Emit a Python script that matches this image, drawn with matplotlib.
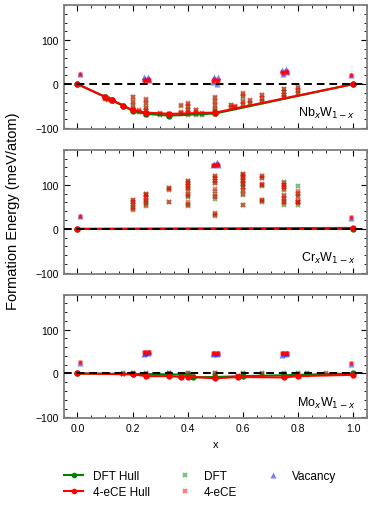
import numpy as np
from matplotlib import pyplot as plt

plt.rcParams['font.family'] = ['Liberation Sans', 'DejaVu Sans']
plt.rcParams['mathtext.fontset'] = 'dejavusans'

# ---- NbW ----
nb_hull_x = [0.0, 0.1, 0.125, 0.1667, 0.2, 0.25, 0.3333, 0.5, 1.0]
nb_dft_hull = [0, -29, -37, -50, -61, -68, -72, -67, 0]
nb_ce_hull = [0, -29, -36, -49, -60, -65, -68, -65, 0]
nb_col_x = [0.1, 0.111, 0.125, 0.1667, 0.2, 0.222, 0.25, 0.3, 0.3333, 0.375,
            0.4, 0.43, 0.45, 0.5, 0.556, 0.571, 0.6, 0.625, 0.667, 0.75, 0.8]
nb_dft_e = [[-30, -32], [-33, -35], [-37, -39], [-50], [-30, -40, -50, -58, -62],
            [-62, -64], [-36, -45, -55, -62, -68, -70], [-68, -70], [-72, -71],
            [-50, -66, -69], [-45, -52, -60, -66, -70], [-60, -66, -70],
            [-68, -70], [-32, -40, -50, -58, -64, -68],
            [-48, -55], [-52, -54], [-23, -30, -40, -48], [-38, -45],
            [-26, -33, -40], [-12, -18, -25, -30], [-8, -15, -22]]
nb_ce_e = [[-30, -33], [-34, -36], [-36, -39], [-49], [-29, -38, -48, -56, -60],
           [-60, -63], [-35, -44, -54, -60, -66, -68], [-66, -69], [-69, -68],
           [-48, -64, -67], [-44, -50, -58, -64, -68], [-58, -64, -68],
           [-66, -68], [-30, -38, -48, -56, -62, -66],
           [-47, -53], [-51, -53], [-21, -28, -38, -46], [-37, -44],
           [-24, -31, -39], [-11, -17, -24, -29], [-7, -14, -21]]
nb_vac_x = [0.01, 0.24, 0.245, 0.255, 0.26, 0.49, 0.495, 0.505, 0.51,
            0.74, 0.745, 0.755, 0.76, 0.99]
nb_vac_e = [23, 17, 12, 15, 10, 5, 15, 0, 17, 32, 24, 35, 28, 20]
nb_vac_ce = [22, 10, 8, 12, 9, 8, 12, 6, 10, 28, 25, 30, 27, 20]

# ---- CrW ----
cr_hull_x = [0.0, 1.0]
cr_dft_hull = [0, 0]
cr_ce_hull = [0, 2]
cr_col_x = [0.2, 0.25, 0.3333, 0.4, 0.5, 0.6, 0.667, 0.75, 0.8]
cr_dft_e = [[42, 48, 55, 60, 65], [52, 58, 63, 70, 76, 80], [62, 88, 92],
            [52, 57, 72, 78, 86, 92, 98, 104, 108],
            [28, 33, 68, 75, 87, 105, 110, 115, 120],
            [55, 78, 85, 95, 100, 105, 110, 116, 121, 125],
            [62, 65, 98, 100, 115, 120], [55, 62, 68, 75, 88, 95, 100, 106],
            [55, 60, 62, 75, 82, 97]]
cr_ce_e = [[44, 50, 56, 62, 66], [54, 60, 66, 72, 78, 80], [62, 90, 92],
           [54, 60, 75, 80, 90, 95, 100, 105, 108],
           [32, 35, 72, 80, 90, 105, 110, 116, 120],
           [55, 80, 88, 96, 102, 108, 112, 118, 122, 126],
           [64, 66, 100, 102, 116, 121], [58, 64, 70, 78, 90, 96, 100, 104],
           [58, 60, 64, 72, 80, 85]]
cr_vac_x = [0.01, 0.49, 0.495, 0.505, 0.51, 0.99]
cr_vac_e = [28, 145, 147, 152, 146, 25]
cr_vac_ce = [28, 145, 146, 147, 145, 27]

# ---- MoW ----
mo_dft_hull_x = [0.0, 0.2, 0.3333, 0.4, 0.417, 0.5, 0.6, 0.75, 1.0]
mo_dft_hull = [0, -1, -2, -3, -9, -8, -6, -4, 0]
mo_ce_hull_x = [0.0, 0.2, 0.25, 0.3333, 0.375, 0.4, 0.5, 0.583, 0.75, 0.8, 1.0]
mo_ce_hull = [0, -2, -6, -6, -8, -7, -11, -8, -9, -6, -3]
mo_col_x = [0.167, 0.2, 0.25, 0.3333, 0.375, 0.4, 0.417, 0.5, 0.583, 0.6,
            0.667, 0.75, 0.8, 0.833, 0.9]
mo_dft_e = [[0, -1], [1, -1], [0, -2], [1, -2], [-5, -7], [2, -3], [-9, -7],
            [2, -4, -8], [-5, -6], [1, -4], [1, -2], [1, -3, -6], [0, -2],
            [0, -1], [0]]
mo_ce_e = [[-1, -2], [0, -2], [-1, -5], [0, -5], [-6, -8], [0, -6], [-8, -6],
           [0, -6, -11], [-6, -8], [-1, -6], [-1, -4], [-2, -6, -9], [-2, -5],
           [-1, -3], [-2]]
mo_vac_x = [0.01, 0.24, 0.245, 0.255, 0.26, 0.49, 0.495, 0.505, 0.51,
            0.74, 0.745, 0.755, 0.76, 0.99]
mo_vac_e = [25, 45, 47, 46, 48, 44, 46, 45, 47, 43, 46, 44, 46, 22]
mo_vac_ce = [26, 48, 49, 48, 49, 46, 47, 46, 47, 46, 47, 46, 47, 23]

labels = [r'Nb$_x$W$_{1-x}$', r'Cr$_x$W$_{1-x}$', r'Mo$_x$W$_{1-x}$']


def expand(col_x, col_e):
    xs = np.concatenate([[x] * len(e) for x, e in zip(col_x, col_e)])
    es = np.concatenate(col_e)
    return xs, es


def draw_panel(ax, hull_x_dft, hull_dft, hull_x_ce, hull_ce, col_x, dft_e, ce_e,
               vac_x, vac_e, vac_ce, label):
    ax.axhline(0, color='black', ls='--', lw=1.4, dashes=(4, 2.5), zorder=7)
    ax.plot(hull_x_dft, hull_dft, '-o', color='green', lw=1.5, ms=3.5, zorder=5)
    ax.plot(hull_x_ce, hull_ce, '-o', color='red', lw=1.5, ms=3.5, zorder=6)
    xs, es = expand(col_x, dft_e)
    ax.plot(xs, es, 'x', color='green', alpha=0.5, ms=3, mew=1.5, zorder=2)
    xs, es = expand(col_x, ce_e)
    ax.plot(xs, es, 'x', color='red', alpha=0.5, ms=3, mew=1.5, zorder=3)
    ax.plot(vac_x, vac_e, '^', color='blue', alpha=0.5, ms=4, mec='none', zorder=2)
    ax.plot(vac_x, vac_ce, 's', color='red', alpha=0.8, ms=3, mec='none', zorder=3)
    ax.text(0.96, 0.07, label, transform=ax.transAxes, ha='right', va='bottom',
            fontsize=9)
    ax.set_xlim(-0.05, 1.05)
    ax.set_ylim(-102, 180)
    ax.set_yticks([-100, 0, 100])
    ax.set_xticks(np.arange(0, 1.01, 0.2))
    ax.set_xticks(np.arange(-0.05, 1.06, 0.05), minor=True)
    ax.set_yticks(np.arange(-100, 181, 20), minor=True)
    ax.tick_params(which='both', direction='in', top=True, right=True,
                   labelsize=7.5)
    ax.tick_params(which='major', length=4, width=0.8)
    ax.tick_params(which='minor', length=2, width=0.6)
    for s in ax.spines.values():
        s.set_color('#7f7f7f')
        s.set_linewidth(1.3)


fig, axes = plt.subplots(3, 1, figsize=(3.74, 5.10), dpi=100, sharex=True)
fig.subplots_adjust(left=0.17, right=0.982, top=0.988, bottom=0.178, hspace=0.17)

draw_panel(axes[0], nb_hull_x, nb_dft_hull, nb_hull_x, nb_ce_hull, nb_col_x,
           nb_dft_e, nb_ce_e, nb_vac_x, nb_vac_e, nb_vac_ce, labels[0])
draw_panel(axes[1], cr_hull_x, cr_dft_hull, cr_hull_x, cr_ce_hull, cr_col_x,
           cr_dft_e, cr_ce_e, cr_vac_x, cr_vac_e, cr_vac_ce, labels[1])
draw_panel(axes[2], mo_dft_hull_x, mo_dft_hull, mo_ce_hull_x, mo_ce_hull, mo_col_x,
           mo_dft_e, mo_ce_e, mo_vac_x, mo_vac_e, mo_vac_ce, labels[2])

axes[2].set_xlabel('x', fontsize=8)
fig.text(0.035, 0.585, 'Formation Energy (meV/atom)', rotation=90,
         ha='center', va='center', fontsize=10.5)

handles = [
    plt.Line2D([], [], color='green', marker='o', ms=3, lw=1.5),
    plt.Line2D([], [], color='red', marker='o', ms=3, lw=1.5),
    plt.Line2D([], [], color='green', marker='x', ms=3, mew=1.5, ls='none', alpha=0.5),
    plt.Line2D([], [], color='red', marker='x', ms=3, mew=1.5, ls='none', alpha=0.5),
    plt.Line2D([], [], color='blue', marker='^', ms=4, mec='none', ls='none', alpha=0.5),
]
names = ['DFT Hull', '4-eCE Hull', 'DFT', '4-eCE', 'Vacancy']
fig.legend(handles, names, ncol=3, loc='lower center', bbox_to_anchor=(0.535, 0.0),
           frameon=False, fontsize=8.5, handlelength=1.6, columnspacing=2.2,
           labelspacing=0.4)

plt.savefig('out.png')
